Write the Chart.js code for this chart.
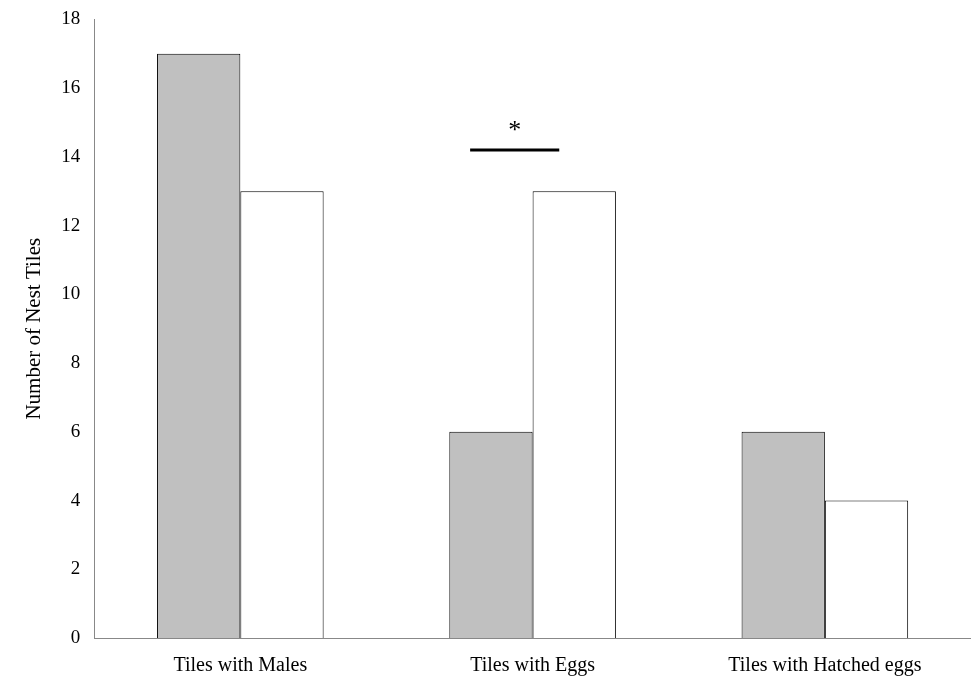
<!DOCTYPE html>
<html><head><meta charset="utf-8">
<script src="https://cdn.jsdelivr.net/npm/chart.js@4"></script>
<style>html,body{margin:0;padding:0;background:#fff;overflow:hidden}#w{width:971px;height:696px}</style>
</head><body><div id="w"><canvas id="c"></canvas></div>
<script>
const categories = ["Tiles with Males", "Tiles with Eggs", "Tiles with Hatched eggs"];
const seriesGray = [17, 6, 6];
const seriesWhite = [13, 13, 4];
const sigCategory = 1, sigLevel = 14.2, sigMark = "*";

const sigPlugin = {
  id: 'sig',
  afterDatasetsDraw(chart) {
    const {ctx, scales} = chart;
    const m0 = chart.getDatasetMeta(0).data[sigCategory];
    const m1 = chart.getDatasetMeta(1).data[sigCategory];
    const y = scales.y.getPixelForValue(sigLevel);
    const x0 = m0.x - m0.width * 0.25, x1 = m1.x - m1.width * 0.18;
    ctx.save();
    ctx.strokeStyle = '#000'; ctx.lineWidth = 3;
    ctx.beginPath(); ctx.moveTo(x0, y); ctx.lineTo(x1, y); ctx.stroke();
    ctx.fillStyle = '#000'; ctx.font = '26px "Liberation Serif"';
    ctx.textAlign = 'center'; ctx.textBaseline = 'bottom';
    ctx.fillText(sigMark, (x0 + x1) / 2, y - 6);
    ctx.restore();
  }
};

new Chart(document.getElementById('c'), {
  type: 'bar',
  data: {
    labels: categories,
    datasets: [
      {data: seriesGray, backgroundColor: '#c0c0c0', borderColor: '#000', borderWidth: 1},
      {data: seriesWhite, backgroundColor: '#fff', borderColor: '#000', borderWidth: 1}
    ]
  },
  options: {
    responsive: true, maintainAspectRatio: false, animation: false,
    layout: {padding: {top: 14, right: -7, left: 16, bottom: 2}},
    plugins: {legend: {display: false}, tooltip: {enabled: false}},
    datasets: {bar: {categoryPercentage: 0.57, barPercentage: 1}},
    scales: {
      x: {
        grid: {display: false, drawTicks: false},
        border: {color: '#888', width: 1},
        ticks: {color: '#000', font: {family: 'Liberation Serif', size: 20}, padding: 16, maxRotation: 0}
      },
      y: {
        min: 0, max: 18,
        grid: {display: false, drawTicks: true, tickLength: 6, color: '#888'},
        border: {color: '#888', width: 1},
        ticks: {stepSize: 2, color: '#000', font: {family: 'Liberation Serif', size: 19}, padding: 8},
        title: {display: true, text: 'Number of Nest Tiles', color: '#000', font: {family: 'Liberation Serif', size: 21}, padding: 6}
      }
    }
  },
  plugins: [sigPlugin]
});
</script></body></html>
